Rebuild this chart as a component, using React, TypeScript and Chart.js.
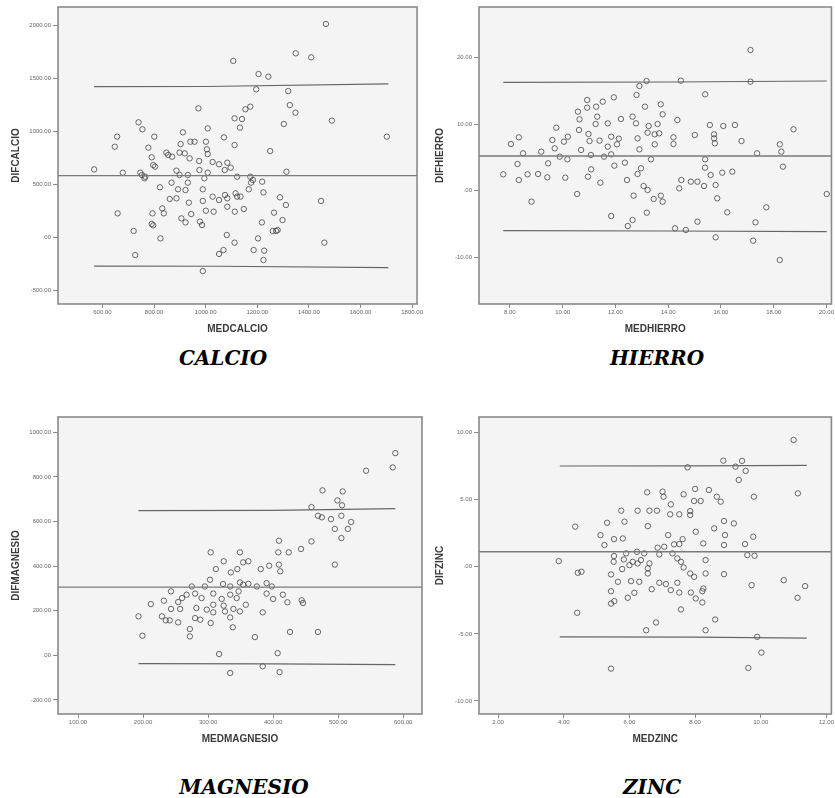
import React, { useEffect, useRef } from 'react';
import { Chart, registerables } from 'chart.js';

Chart.register(...registerables);

// ---------------- CALCIO ----------------
const calcioX = [
  1466, 1107, 1349, 1409, 1205, 1243, 1196, 1320, 1326, 1348,
  1173, 1154, 1112, 1141, 1133, 1303, 1489, 1702, 972, 740,
  755, 1008, 912, 801, 657, 648, 778, 903, 941, 957,
  1001, 1071, 1112, 1250, 848, 855, 899, 919, 938, 1005,
  1008, 791, 797, 870, 975, 1027, 1052, 1084, 1097, 1074,
  568, 679, 747, 753, 763, 766, 804, 887, 899, 931,
  976, 995, 1008, 1122, 1173, 1183, 1176, 1313, 1219, 868,
  931, 823, 893, 922, 989, 1167, 1224, 861, 887, 935,
  989, 1027, 1052, 1075, 1084, 1116, 1122, 1135, 1288, 1311,
  1447, 832, 794, 838, 944, 1001, 1031, 1084, 1113, 1148,
  1265, 659, 906, 922, 978, 986, 791, 797, 1218, 1298,
  721, 825, 1082, 1112, 1203, 1260, 1273, 1279, 1460, 727,
  1052, 1069, 1186, 1227, 1224, 989,
];
const calcioY = [
  2010, 1661, 1733, 1695, 1538, 1513, 1393, 1377, 1245, 1173,
  1230, 1205, 1120, 1113, 1032, 1066, 1098, 947, 1214, 1082,
  1016, 1025, 988, 947, 947, 852, 843, 877, 899, 899,
  899, 940, 868, 811, 796, 774, 796, 789, 742, 827,
  783, 752, 679, 758, 717, 708, 686, 701, 654, 632,
  638, 607, 607, 585, 554, 569, 664, 626, 585, 585,
  632, 554, 607, 569, 569, 538, 513, 616, 522, 513,
  513, 469, 450, 443, 450, 450, 421, 359, 365, 324,
  340, 381, 349, 396, 365, 412, 381, 381, 374, 302,
  340, 270, 223, 223, 217, 248, 239, 286, 239, 264,
  230, 223, 176, 138, 145, 113, 123, 110, 138, 160,
  57, -13, 19, -53, -13, 57, 57, 66, -53, -170,
  -160, -123, -123, -129, -217, -321,
];
const calcioMean = 579;
const calcioUpperX = [568, 1000, 1708];
const calcioUpperY = [1418, 1420, 1444];
const calcioLowerX = [568, 1050, 1708];
const calcioLowerY = [-274, -276, -289];
const calcioXRange = [428, 1819];
const calcioYRange = [-632, 2170];
const calcioXTicks = [600, 800, 1000, 1200, 1400, 1600, 1800];
const calcioYTicks = [-500, 0, 500, 1000, 1500, 2000];

// ---------------- HIERRO ----------------
const hierroX = [
  17.12, 17.12, 13.18, 14.48, 12.91, 15.4, 11.94, 12.8, 10.93, 10.93,
  11.27, 11.52, 10.58, 13.12, 13.72, 13.79, 11.31, 10.64, 12.21, 12.65,
  12.78, 11.71, 11.25, 13.26, 13.6, 14.35, 15.58, 16.09, 16.53, 18.75,
  9.76, 10.62, 8.34, 8.04, 9.61, 10.2, 10.05, 10.98, 11.02, 11.4,
  11.84, 12.13, 12.84, 13.22, 13.49, 13.66, 14.2, 14.2, 15.01, 15.74,
  15.74, 15.77, 16.78, 18.23, 9.7, 9.19, 8.5, 11.71, 12.06, 10.7,
  12.91, 13.49, 17.37, 18.29, 9.89, 10.18, 11.07, 11.57, 11.84, 13.35,
  15.4, 9.45, 8.29, 11.96, 12.36, 12.97, 15.4, 18.35, 7.75, 8.34,
  8.67, 9.07, 9.42, 10.1, 10.96, 11.08, 11.43, 12.44, 12.84, 14.5,
  14.86, 15.11, 15.61, 16.05, 16.43, 15.8, 15.36, 14.42, 13.07, 13.22,
  10.55, 12.69, 13.45, 13.72, 13.79, 8.82, 15.86, 20.01, 17.72, 16.24,
  13.19, 11.84, 12.65, 12.47, 15.11, 17.31, 14.26, 14.67, 15.8, 17.22,
  18.23,
];
const hierroY = [
  21.1, 16.35, 16.45, 16.5, 15.7, 14.45, 14.0, 14.35, 13.6, 12.45,
  12.6, 13.35, 11.85, 12.6, 12.95, 11.45, 11.1, 10.7, 10.75, 11.1,
  10.1, 10.1, 10.0, 9.7, 10.0, 10.6, 9.85, 9.7, 9.85, 9.2,
  9.45, 9.1, 8.0, 7.0, 7.6, 8.1, 7.35, 8.5, 7.45, 7.5,
  8.1, 7.8, 7.85, 8.7, 8.45, 8.6, 8.0, 7.0, 8.35, 8.45,
  7.85, 7.1, 7.45, 6.95, 6.35, 5.85, 5.6, 6.6, 6.95, 6.1,
  6.2, 6.95, 5.6, 5.85, 5.1, 4.7, 5.35, 5.1, 5.45, 4.7,
  4.7, 4.1, 4.0, 3.75, 4.2, 3.35, 3.45, 3.6, 2.45, 1.6,
  2.45, 2.5, 2.0, 1.95, 2.1, 3.2, 1.2, 1.6, 2.5, 1.6,
  1.35, 1.35, 2.35, 2.7, 2.85, 0.85, 0.7, 0.35, 0.7, 0.1,
  -0.5, -0.75, -1.25, -0.75, -1.65, -1.65, -1.15, -0.5, -2.5, -3.25,
  -3.3, -3.8, -4.4, -5.3, -4.65, -4.75, -5.65, -5.9, -7.0, -7.5,
  -10.4,
];
const hierroMean = 5.2;
const hierroUpperX = [7.75, 14, 20.01];
const hierroUpperY = [16.25, 16.3, 16.45];
const hierroLowerX = [7.75, 14, 20.01];
const hierroLowerY = [-6.0, -6.05, -6.15];
const hierroXRange = [6.83, 20.19];
const hierroYRange = [-17.0, 27.55];
const hierroXTicks = [8, 10, 12, 14, 16, 18, 20];
const hierroYTicks = [-10, 0, 10, 20];

// ---------------- MAGNESIO ----------------
const magnesioX = [
  588, 584, 543, 476, 507, 499, 506, 459, 469, 475,
  489, 505, 520, 515, 495, 505, 459, 409, 443, 424,
  408, 349, 304, 495, 324, 312, 335, 345, 354, 362,
  381, 394, 409, 411, 275, 295, 303, 323, 334, 349,
  354, 362, 375, 390, 398, 243, 260, 267, 280, 290,
  308, 321, 334, 344, 347, 390, 400, 415, 422, 444,
  446, 212, 232, 254, 282, 308, 324, 339, 358, 243,
  257, 298, 308, 326, 349, 384, 193, 229, 235, 241,
  254, 280, 288, 304, 334, 338, 272, 272, 199, 372,
  426, 469, 317, 407, 384, 334, 410,
];
const magnesioY = [
  907, 843, 828, 740, 735, 695, 673, 665, 626, 619,
  611, 626, 598, 567, 567, 526, 511, 514, 477, 462,
  462, 462, 462, 407, 422, 387, 372, 387, 417, 422,
  387, 402, 407, 377, 309, 309, 339, 320, 309, 327,
  317, 321, 309, 324, 309, 287, 257, 272, 277, 257,
  277, 253, 272, 257, 287, 277, 253, 272, 238, 247,
  235, 230, 245, 239, 212, 227, 223, 208, 227, 208,
  208, 205, 193, 197, 197, 193, 175, 175, 157, 157,
  148, 167, 160, 145, 170, 126, 118, 85, 88, 82,
  105, 105, 6, 10, -49, -79, -75,
];
const magnesioMean = 306;
const magnesioUpperX = [193, 400, 588];
const magnesioUpperY = [649, 650, 658];
const magnesioLowerX = [193, 400, 588];
const magnesioLowerY = [-37, -38, -42];
const magnesioXRange = [69.2, 629];
const magnesioYRange = [-263, 1069];
const magnesioXTicks = [100, 200, 300, 400, 500, 600];
const magnesioYTicks = [-200, 0, 200, 400, 600, 800, 1000];

// ---------------- ZINC ----------------
const zincX = [
  11.0, 8.86, 9.43, 7.77, 9.23, 9.54, 9.33, 6.54, 7.01, 7.04,
  7.65, 8.0, 8.42, 8.66, 7.97, 8.17, 8.78, 9.79, 11.13, 7.26,
  5.75, 6.25, 6.61, 6.84, 7.24, 7.52, 7.85, 7.85, 5.85, 5.32,
  4.35, 6.56, 8.88, 9.18, 8.58, 8.02, 5.12, 5.53, 5.8, 7.18,
  7.62, 8.91, 9.77, 5.24, 6.86, 7.06, 7.36, 7.52, 8.25, 8.88,
  9.52, 3.85, 5.53, 5.9, 6.23, 6.45, 6.91, 7.31, 7.46, 9.59,
  9.81, 5.52, 5.83, 6.1, 6.35, 6.61, 7.57, 8.32, 5.78, 6.0,
  6.25, 6.56, 7.65, 4.43, 4.54, 5.44, 6.56, 7.85, 8.32, 8.88,
  7.97, 5.65, 6.05, 6.3, 6.91, 7.11, 7.46, 9.72, 10.7, 11.35,
  5.44, 6.68, 7.26, 7.52, 7.87, 8.25, 8.22, 5.95, 6.15, 8.02,
  11.12, 5.44, 5.54, 8.22, 7.57, 4.41, 8.61, 6.81, 6.51, 8.32,
  9.89, 10.02, 5.44, 9.62,
];
const zincY = [
  9.45, 7.91, 7.89, 7.41, 7.46, 7.14, 6.47, 5.55, 5.6, 5.22,
  5.4, 5.8, 5.72, 5.22, 4.9, 4.9, 4.85, 5.22, 5.47, 4.65,
  4.18, 4.18, 4.18, 4.18, 3.91, 3.91, 4.15, 3.86, 3.36, 3.28,
  2.99, 3.03, 3.41, 3.23, 2.86, 2.61, 2.36, 2.06, 2.11, 2.36,
  2.06, 2.36, 2.24, 1.62, 1.42, 1.49, 1.67, 1.69, 1.74, 1.62,
  1.69, 0.42, 0.8, 1.0, 1.12, 1.0, 0.92, 1.0, 0.62, 0.87,
  0.82, 0.37, 0.55, 0.37, 0.5, 0.25, 0.37, 0.5, -0.17, 0.12,
  0.25, -0.12, -0.05, -0.45, -0.37, -0.57, -0.5, -0.5, -0.5, -0.55,
  -0.75, -1.12, -1.07, -1.12, -1.19, -1.29, -1.19, -1.37, -1.0, -1.44,
  -1.82, -1.67, -1.74, -1.92, -1.92, -1.62, -1.82, -2.31, -1.94, -2.36,
  -2.31, -2.74, -2.56, -2.66, -3.18, -3.43, -3.93, -4.15, -4.73, -4.73,
  -5.22, -6.39, -7.59, -7.54,
];
const zincMean = 1.12;
const zincUpperX = [3.88, 8, 11.4];
const zincUpperY = [7.51, 7.52, 7.56];
const zincLowerX = [3.88, 8, 11.4];
const zincLowerY = [-5.22, -5.24, -5.32];
const zincXRange = [1.42, 12.15];
const zincYRange = [-10.97, 11.16];
const zincXTicks = [2, 4, 6, 8, 10, 12];
const zincYTicks = [-10, -5, 0, 5, 10];

// ---------------- helpers ----------------
const spss = (v: number) => {
  const s = Math.abs(v).toFixed(2).replace(/^0/, '');
  return (v < 0 ? '-' : '') + s;
};

const zip = (xs: number[], ys: number[]) => {
  const n = Math.min(xs.length, ys.length);
  const out: { x: number; y: number }[] = [];
  for (let i = 0; i < n; i++) out.push({ x: xs[i], y: ys[i] });
  return out;
};

const framePlugin = {
  id: 'spssFrame',
  beforeDatasetsDraw(chart: any) {
    const { ctx, chartArea: a } = chart;
    ctx.save();
    ctx.fillStyle = '#f4f4f4';
    ctx.fillRect(a.left, a.top, a.right - a.left, a.bottom - a.top);
    ctx.restore();
  },
  afterDraw(chart: any) {
    const { ctx, chartArea: a } = chart;
    ctx.save();
    ctx.strokeStyle = '#8a8a8a';
    ctx.lineWidth = 1.6;
    ctx.strokeRect(a.left, a.top, a.right - a.left, a.bottom - a.top);
    ctx.restore();
  },
};

type PanelDef = {
  left: number; top: number; w: number; h: number; yAxisW: number;
  xs: number[]; ys: number[]; mean: number;
  upX: number[]; upY: number[]; loX: number[]; loY: number[];
  xRange: number[]; yRange: number[]; xTicks: number[]; yTicks: number[];
  xTitle: string; yTitle: string;
};

const panels: PanelDef[] = [
  { left: 0, top: 0, w: 424, h: 345, yAxisW: 58, xs: calcioX, ys: calcioY, mean: calcioMean,
    upX: calcioUpperX, upY: calcioUpperY, loX: calcioLowerX, loY: calcioLowerY,
    xRange: calcioXRange, yRange: calcioYRange, xTicks: calcioXTicks, yTicks: calcioYTicks,
    xTitle: 'MEDCALCIO', yTitle: 'DIFCALCIO' },
  { left: 424, top: 0, w: 411, h: 345, yAxisW: 55, xs: hierroX, ys: hierroY, mean: hierroMean,
    upX: hierroUpperX, upY: hierroUpperY, loX: hierroLowerX, loY: hierroLowerY,
    xRange: hierroXRange, yRange: hierroYRange, xTicks: hierroXTicks, yTicks: hierroYTicks,
    xTitle: 'MEDHIERRO', yTitle: 'DIFHIERRO' },
  { left: 0, top: 410, w: 424, h: 345, yAxisW: 58, xs: magnesioX, ys: magnesioY, mean: magnesioMean,
    upX: magnesioUpperX, upY: magnesioUpperY, loX: magnesioLowerX, loY: magnesioLowerY,
    xRange: magnesioXRange, yRange: magnesioYRange, xTicks: magnesioXTicks, yTicks: magnesioYTicks,
    xTitle: 'MEDMAGNESIO', yTitle: 'DIFMAGNESIO' },
  { left: 424, top: 410, w: 411, h: 345, yAxisW: 55, xs: zincX, ys: zincY, mean: zincMean,
    upX: zincUpperX, upY: zincUpperY, loX: zincLowerX, loY: zincLowerY,
    xRange: zincXRange, yRange: zincYRange, xTicks: zincXTicks, yTicks: zincYTicks,
    xTitle: 'MEDZINC', yTitle: 'DIFZINC' },
];

const panelTitles = [
  { text: 'CALCIO', cx: 223, cy: 358 },
  { text: 'HIERRO', cx: 657, cy: 358 },
  { text: 'MAGNESIO', cx: 244, cy: 787 },
  { text: 'ZINC', cx: 652, cy: 787 },
];

const lineStyle = {
  showLine: true,
  pointRadius: 0,
  borderColor: '#666666',
  borderWidth: 1.2,
  fill: false,
  tension: 0,
};

function Panel({ p }: { p: PanelDef }) {
  const ref = useRef<HTMLCanvasElement>(null);
  useEffect(() => {
    const tickFont = { family: 'Liberation Sans, Arial, sans-serif', size: 6 };
    const titleFont = { family: 'Liberation Sans, Arial, sans-serif', size: 10, weight: 'bold' as const };
    const chart = new Chart(ref.current!, {
      type: 'scatter',
      data: {
        datasets: [
          { data: zip(p.upX, p.upY), ...lineStyle } as any,
          {
            data: [{ x: p.xRange[0], y: p.mean }, { x: p.xRange[1], y: p.mean }], ...lineStyle,
            borderColor: '#7a7a7a', borderWidth: 1.4,
          } as any,
          { data: zip(p.loX, p.loY), ...lineStyle } as any,
          {
            data: zip(p.xs, p.ys),
            pointStyle: 'circle',
            pointRadius: 2.7,
            pointBorderWidth: 0.9,
            pointBorderColor: 'rgba(60,60,60,0.85)',
            pointBackgroundColor: 'rgba(0,0,0,0)',
            showLine: false,
          } as any,
        ],
      },
      options: {
        animation: false,
        responsive: false,
        devicePixelRatio: 1,
        layout: { autoPadding: false, padding: { left: 0, top: 7, right: 2, bottom: 10 } },
        plugins: { legend: { display: false }, tooltip: { enabled: false } },
        scales: {
          x: {
            type: 'linear',
            min: p.xRange[0],
            max: p.xRange[1],
            afterBuildTicks: (s: any) => { s.ticks = p.xTicks.map((v) => ({ value: v })); },
            afterFit: (s: any) => { s.height = 31; },
            border: { display: false },
            grid: { display: true, drawOnChartArea: false, drawTicks: true, tickLength: 4, color: '#8a8a8a', lineWidth: 1 },
            ticks: { autoSkip: false, maxRotation: 0, padding: 1, color: '#666666', font: tickFont, callback: (v: any) => spss(Number(v)) },
            title: { display: true, text: p.xTitle, color: '#3a3a3a', font: titleFont, padding: { top: 0, bottom: 0 } },
          },
          y: {
            type: 'linear',
            min: p.yRange[0],
            max: p.yRange[1],
            afterBuildTicks: (s: any) => { s.ticks = p.yTicks.map((v) => ({ value: v })); },
            afterFit: (s: any) => { s.width = p.yAxisW; },
            border: { display: false },
            grid: { display: true, drawOnChartArea: false, drawTicks: true, tickLength: 5, color: '#8a8a8a', lineWidth: 1 },
            ticks: { autoSkip: false, padding: 2, color: '#666666', font: tickFont, callback: (v: any) => spss(Number(v)) },
            title: { display: true, text: p.yTitle, color: '#3a3a3a', font: titleFont, padding: { top: 10, bottom: 0 } },
          },
        },
      },
      plugins: [framePlugin],
    } as any);
    return () => chart.destroy();
  }, []);
  return (
    <canvas
      ref={ref}
      width={p.w}
      height={p.h}
      style={{ position: 'absolute', left: p.left, top: p.top, width: p.w, height: p.h }}
    />
  );
}

export default function App() {
  return (
    <div style={{ position: 'absolute', left: 0, top: 0, width: 835, height: 798, background: '#ffffff', overflow: 'hidden' }}>
      {panels.map((p, i) => <Panel key={i} p={p} />)}
      {panelTitles.map((t, i) => (
        <div
          key={'t' + i}
          style={{
            position: 'absolute', left: t.cx - 120, width: 240, top: t.cy - 13, height: 26, lineHeight: '26px',
            textAlign: 'center', fontFamily: '"DejaVu Serif", serif', fontWeight: 'bold', fontStyle: 'italic', fontSize: 20, color: '#000',
          }}
        >
          {t.text}
        </div>
      ))}
    </div>
  );
}
